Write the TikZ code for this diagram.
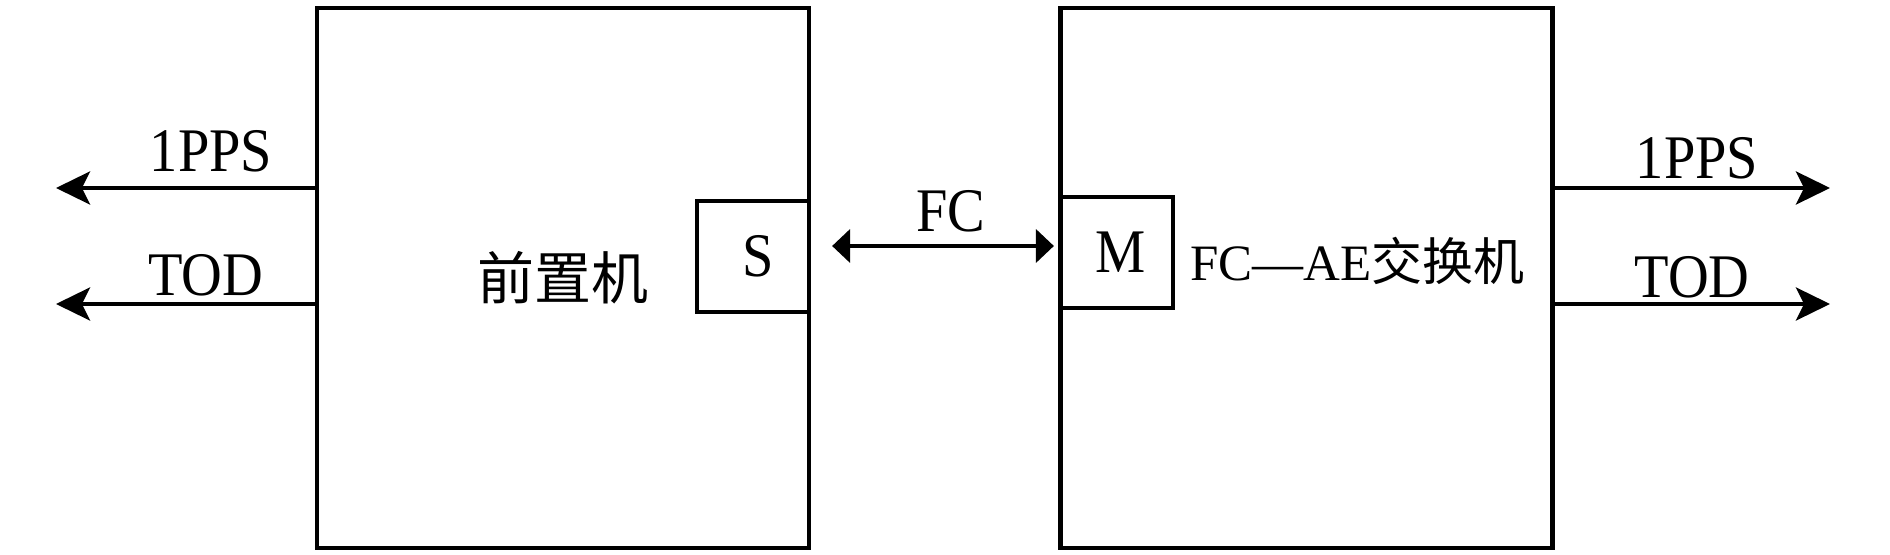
\documentclass[tikz,border=0pt]{standalone}
\usepackage{fontspec}
\setmainfont{Liberation Serif}
\newfontfamily\lblfont{Liberation Serif}[FakeStretch=0.91]
\newfontfamily\cjk{Noto Sans CJK SC}
\usepackage{tikz}
\usetikzlibrary{arrows.meta, positioning}

\tikzset{
	unit/.style={draw, line width=2.1pt, minimum width=246pt, minimum height=270pt, inner sep=0pt, font=\cjk\fontsize{28.5}{30}\selectfont},
	port/.style={draw, line width=2.1pt, minimum width=56pt, minimum height=55.5pt, inner sep=0pt, font=\lblfont\fontsize{31}{33}\selectfont},
	sig/.style={line width=2pt, -{Stealth[length=17pt, width=16.5pt, inset=4pt]}},
	link/.style={line width=2pt, {Triangle[length=9pt, width=16.5pt]}-{Triangle[length=9pt, width=16.5pt]}},
	lbl/.style={inner sep=0pt, anchor=base, font=\lblfont\fontsize{31}{33}\selectfont}
}

\begin{document}
\begin{tikzpicture}[x=0.5pt, y=-0.5pt]
	\useasboundingbox (0,0) rectangle (1890,555);
	% the two units
	\node[unit] (fep) at (563,278) {前置机};
	\node[unit] (sw) at (1306.5,278) {};
	\node[port] (sport) at (753,256.5) {\hspace{5pt}S};
	\node[port, minimum width=56.5pt] (mport) at (1116.5,252.5) {\hspace{4pt}M};
	\node[inner sep=0pt, font=\fontsize{25.5}{28}\selectfont] (swname) at (1357.5,261) {FC—AE{\cjk 交换机}};

	% free ends of the outputs
	\coordinate (ppsl) at (56,188);
	\coordinate (todl) at (56,304);
	\coordinate (ppsr) at (1830,188);
	\coordinate (todr) at (1830,304);
	\coordinate (fcy) at (0,246);

	\draw[sig] (fep.west |- ppsl) -- (ppsl);
	\draw[sig] (fep.west |- todl) -- (todl);
	\draw[sig] (sw.east |- ppsr) -- (ppsr);
	\draw[sig] (sw.east |- todr) -- (todr);
	\draw[link, shorten <=10.5pt, shorten >=2pt] (sport.east |- fcy) -- (mport.west |- fcy);

	\node[lbl] (ppsltxt) at (211,172) {1PPS};
	\node[lbl] (todltxt) at (206,296) {TOD};
	\node[lbl] (ppsrtxt) at (1697,179) {1PPS};
	\node[lbl] (todrtxt) at (1692,298) {TOD};
	\node[lbl] (fctxt) at (951,232) {FC};
\end{tikzpicture}
\end{document}
